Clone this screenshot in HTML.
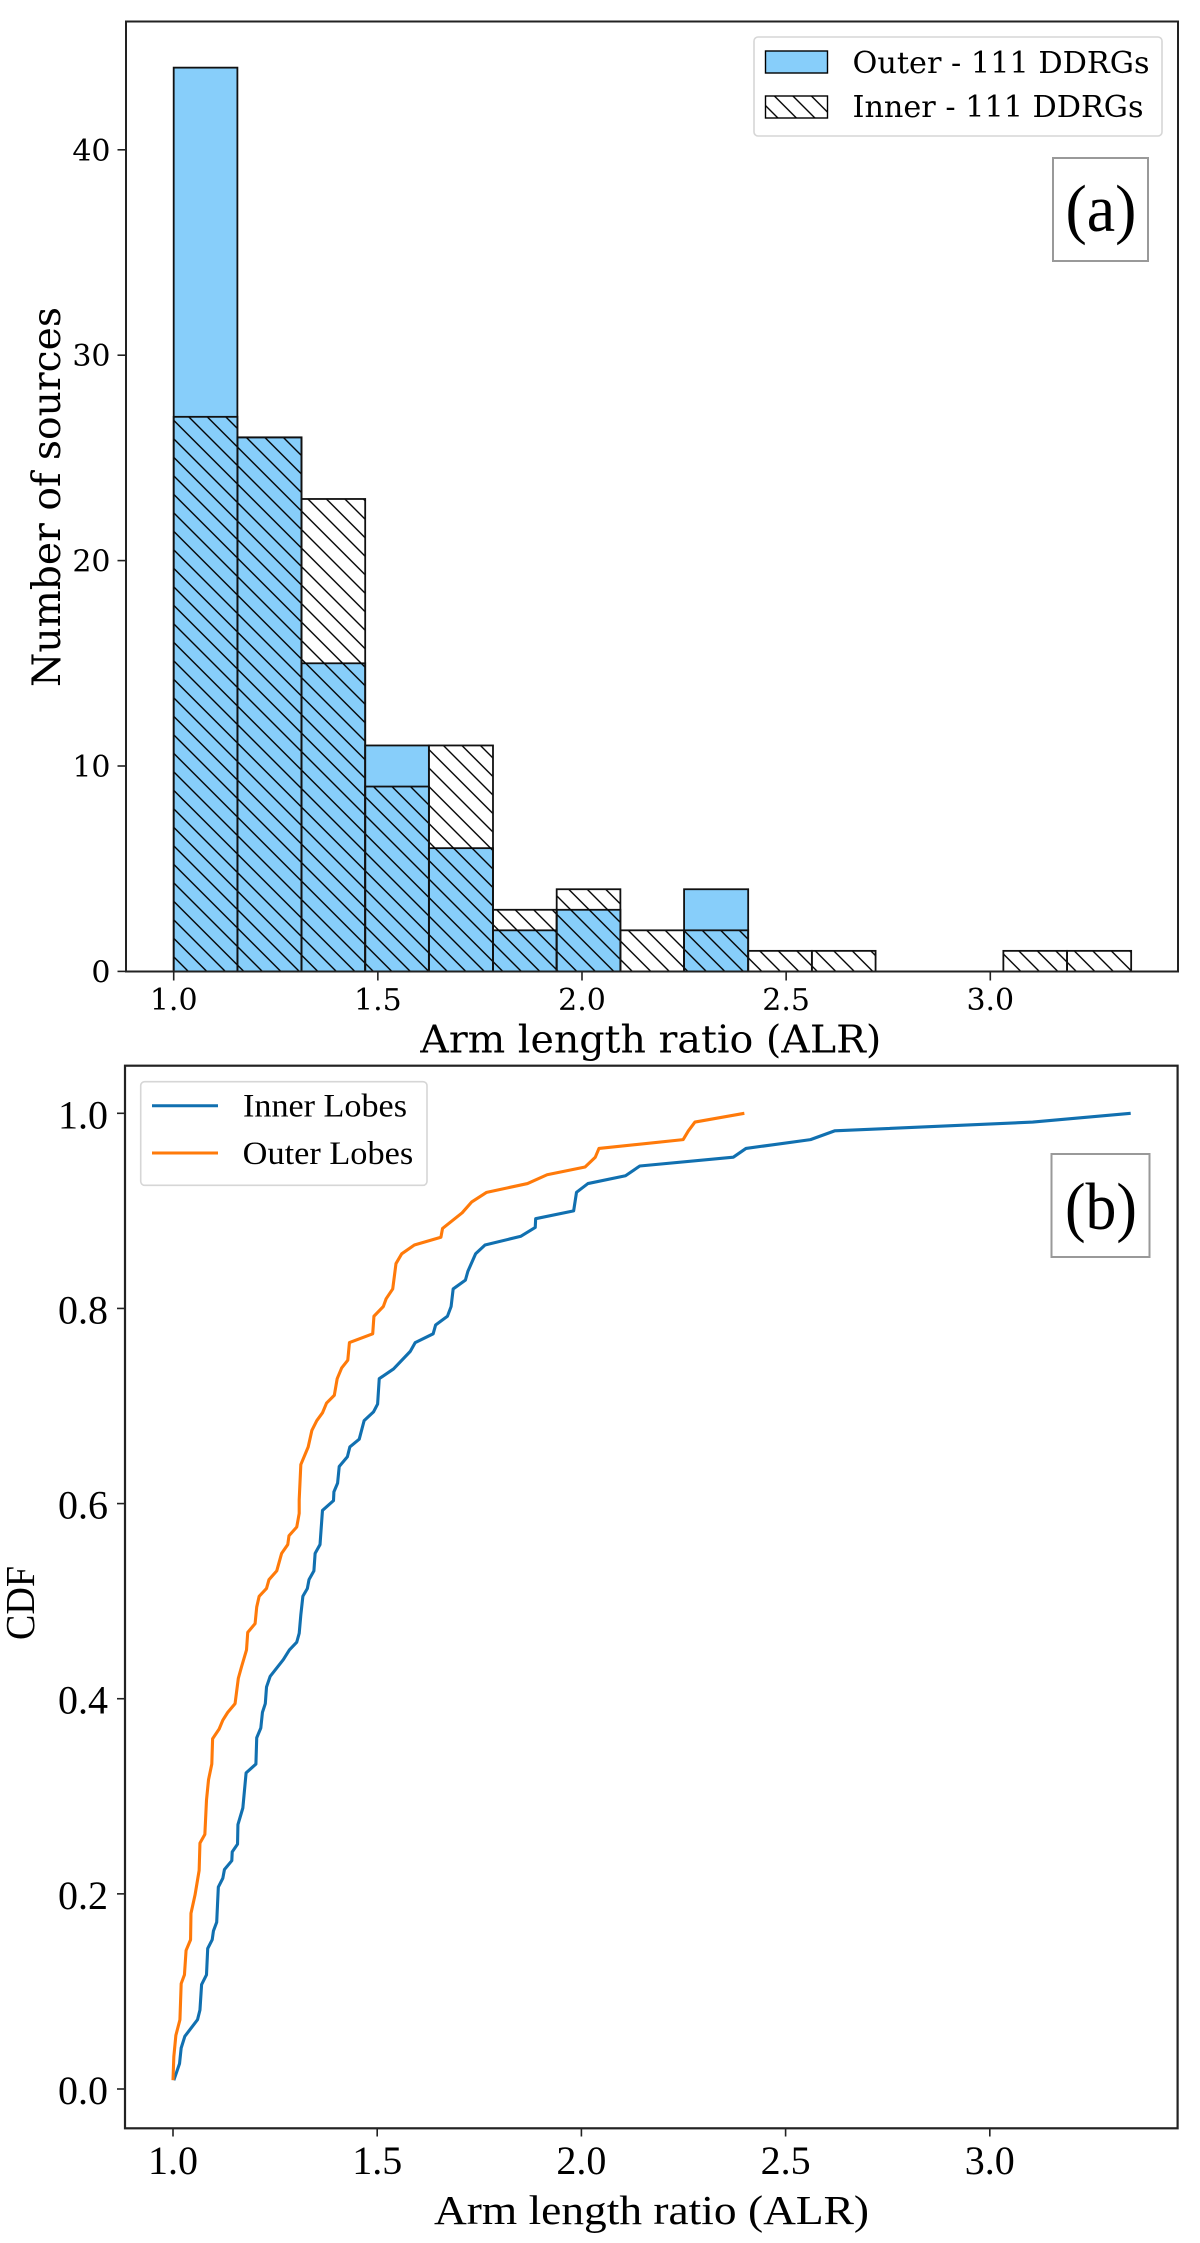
<!DOCTYPE html>
<html lang="en">
<head>
<meta charset="utf-8">
<title>Arm length ratio histogram and CDF</title>
<style>
html,body{margin:0;padding:0;background:#fff;}
svg{display:block;}
.dj{font-family:"DejaVu Serif","Liberation Serif",serif;fill:#000;}
.lib{font-family:"Liberation Serif","DejaVu Serif",serif;fill:#000;}
</style>
</head>
<body>
<svg id="fig" xmlns="http://www.w3.org/2000/svg" width="1200" height="2243" viewBox="0 0 1200 2243">
<defs>
<pattern id="hatch" patternUnits="userSpaceOnUse" width="18.5" height="18.5" patternTransform="translate(12.4 0)">
<path d="M0,0 L18.5,18.5 M-2,16.5 L2,20.5 M16.5,-2 L20.5,2" stroke="#000" stroke-width="1.4" fill="none"/>
</pattern>
</defs>
<rect x="0" y="0" width="1200" height="2243" fill="#fff"/>

<g id="panelA"></g>
<g id="panelB"></g>

<rect x="126" y="21.5" width="1052" height="950" fill="none" stroke="#222" stroke-width="2"/>
<rect x="125" y="1065.7" width="1052.6" height="1062.6" fill="none" stroke="#222" stroke-width="2.2"/>

<text class="dj" x="650.8" y="1052.5" font-size="38" text-anchor="middle" textLength="461" lengthAdjust="spacingAndGlyphs">Arm length ratio (ALR)</text>
<text class="dj" x="0" y="0" font-size="39" text-anchor="middle" textLength="380" lengthAdjust="spacingAndGlyphs" transform="translate(60 497) rotate(-90)">Number of sources</text>
<text class="lib" x="651.5" y="2224" font-size="41" text-anchor="middle" textLength="435" lengthAdjust="spacingAndGlyphs">Arm length ratio (ALR)</text>
<text class="lib" x="0" y="0" font-size="41" text-anchor="middle" textLength="74" lengthAdjust="spacingAndGlyphs" transform="translate(34 1603) rotate(-90)">CDF</text>

<g>
<rect x="754" y="37" width="408" height="99" rx="4" ry="4" fill="#fff" fill-opacity="0.85" stroke="#d6d6d6" stroke-width="1.6"/>
<rect x="765.5" y="51" width="62" height="22" fill="#87cefa" stroke="#000" stroke-width="1.4"/>
<text class="dj" x="852.5" y="73" font-size="30" textLength="297" lengthAdjust="spacingAndGlyphs">Outer - 111 DDRGs</text>
<rect x="765.5" y="96" width="62" height="22" fill="url(#hatch)" stroke="#000" stroke-width="1.4"/>
<text class="dj" x="852.5" y="117" font-size="30" textLength="291" lengthAdjust="spacingAndGlyphs">Inner - 111 DDRGs</text>
</g>

<g>
<rect x="1053" y="158" width="95" height="103" fill="#fff" stroke="#999" stroke-width="2"/>
<text class="lib" x="1101" y="231" font-size="67" text-anchor="middle" textLength="71" lengthAdjust="spacingAndGlyphs">(a)</text>
</g>

<g>
<rect x="140.7" y="1081.7" width="286.3" height="103.6" rx="4" ry="4" fill="#fff" fill-opacity="0.85" stroke="#d6d6d6" stroke-width="1.6"/>
<line x1="152" x2="218" y1="1105.7" y2="1105.7" stroke="#1170b0" stroke-width="3"/>
<text class="lib" x="243" y="1116.7" font-size="33" textLength="164" lengthAdjust="spacingAndGlyphs">Inner Lobes</text>
<line x1="152" x2="218" y1="1153" y2="1153" stroke="#ff7a0a" stroke-width="3"/>
<text class="lib" x="242.7" y="1164" font-size="33" textLength="170.5" lengthAdjust="spacingAndGlyphs">Outer Lobes</text>
</g>

<g>
<rect x="1051.5" y="1154" width="98" height="103" fill="#fff" stroke="#999" stroke-width="2"/>
<text class="lib" x="1101" y="1229" font-size="67" text-anchor="middle" textLength="72" lengthAdjust="spacingAndGlyphs">(b)</text>
</g>
</svg>

<script>
var histBinEdges = [1.000,1.156,1.313,1.469,1.625,1.782,1.938,2.094,2.250,2.407,2.563,2.719,2.876,3.032,3.188,3.345];
var outerCounts = [44,26,15,11,6,2,3,0,4,0,0,0,0,0,0];
var innerCounts = [27,26,23,9,11,3,4,2,2,1,1,0,0,1,1];
var histXTicks = ["1.0","1.5","2.0","2.5","3.0"];
var histYTicks = ["0","10","20","30","40"];
var cdfXTicks = ["1.0","1.5","2.0","2.5","3.0"];
var cdfYTicks = ["0.0","0.2","0.4","0.6","0.8","1.0"];

var innerAlr = [1.002,1.016,1.020,1.029,1.060,1.066,1.070,1.082,1.085,1.096,1.099,1.107,1.111,1.122,1.126,1.144,1.145,1.158,1.159,1.171,1.179,1.203,1.205,1.215,1.219,1.226,1.229,1.238,1.270,1.285,1.303,1.309,1.313,1.318,1.329,1.333,1.345,1.348,1.360,1.366,1.393,1.394,1.403,1.407,1.427,1.433,1.456,1.468,1.491,1.501,1.505,1.540,1.581,1.593,1.637,1.643,1.672,1.681,1.686,1.716,1.722,1.741,1.764,1.852,1.887,1.888,1.981,1.988,2.016,2.108,2.143,2.372,2.403,2.561,2.620,3.105,3.345];
var innerCdf = [0.009,0.026,0.042,0.054,0.071,0.081,0.107,0.117,0.144,0.153,0.162,0.171,0.207,0.216,0.225,0.234,0.243,0.251,0.271,0.288,0.324,0.333,0.360,0.370,0.386,0.395,0.412,0.423,0.440,0.450,0.458,0.467,0.486,0.505,0.513,0.522,0.531,0.549,0.558,0.593,0.603,0.612,0.621,0.638,0.648,0.658,0.666,0.685,0.694,0.702,0.728,0.738,0.756,0.765,0.774,0.783,0.792,0.802,0.820,0.829,0.838,0.856,0.865,0.874,0.883,0.892,0.900,0.919,0.928,0.936,0.946,0.955,0.964,0.973,0.982,0.991,1.000];
var outerAlr = [1.000,1.002,1.007,1.017,1.020,1.028,1.032,1.043,1.044,1.054,1.064,1.066,1.078,1.082,1.087,1.095,1.097,1.113,1.122,1.134,1.152,1.160,1.168,1.180,1.183,1.201,1.205,1.211,1.229,1.235,1.254,1.266,1.281,1.284,1.303,1.309,1.309,1.313,1.331,1.340,1.352,1.366,1.376,1.395,1.402,1.413,1.428,1.432,1.489,1.492,1.515,1.522,1.538,1.546,1.560,1.591,1.656,1.660,1.708,1.731,1.768,1.868,1.916,2.009,2.034,2.043,2.249,2.262,2.278,2.399];
var outerCdf = [0.009,0.033,0.055,0.071,0.108,0.117,0.142,0.153,0.180,0.199,0.224,0.252,0.261,0.296,0.317,0.333,0.359,0.369,0.378,0.386,0.395,0.421,0.433,0.450,0.468,0.477,0.494,0.505,0.513,0.522,0.531,0.549,0.558,0.567,0.576,0.590,0.604,0.640,0.658,0.675,0.685,0.693,0.703,0.711,0.728,0.739,0.747,0.765,0.774,0.792,0.802,0.810,0.820,0.846,0.856,0.865,0.873,0.882,0.898,0.909,0.919,0.928,0.937,0.945,0.955,0.964,0.973,0.982,0.991,1.000];

var NS = "http://www.w3.org/2000/svg";
function histX(v){ return 173.7 + (v - 1) * 408.3; }
function histY(v){ return 971.4 - v * 20.54; }
function cdfX(v){ return 173 + (v - 1) * 408.4; }
function cdfY(v){ return 2089 - v * 975.7; }
function make(parent, tag, attrs){
  var n = document.createElementNS(NS, tag);
  for (var k in attrs) { n.setAttribute(k, attrs[k]); }
  parent.appendChild(n);
  return n;
}
var panelA = document.getElementById("panelA");
var panelB = document.getElementById("panelB");

outerCounts.forEach(function(c, i){
  if (c <= 0) return;
  var r = make(panelA, "rect", {x: histX(histBinEdges[i]), y: histY(c), width: histX(histBinEdges[i+1]) - histX(histBinEdges[i]), height: histY(0) - histY(c), fill: "#87cefa", stroke: "#111", "stroke-width": 1.8});
  
  
});
innerCounts.forEach(function(c, i){
  if (c <= 0) return;
  var r = make(panelA, "rect", {x: histX(histBinEdges[i]), y: histY(c), width: histX(histBinEdges[i+1]) - histX(histBinEdges[i]), height: histY(0) - histY(c), fill: "url(#hatch)", stroke: "#111", "stroke-width": 1.8});
  
  
});

histXTicks.forEach(function(t){
  var x = histX(parseFloat(t));
  var m = make(panelA, "line", {x1: x, x2: x, y1: 971.4, y2: 980.5, stroke: "#222", "stroke-width": 1.6});
  
  
  var l = make(panelA, "text", {x: x, y: 1010, "text-anchor": "middle", "font-size": 30, "class": "dj"});
  l.textContent = t;
  
  
});
histYTicks.forEach(function(t){
  var y = histY(parseFloat(t));
  var m = make(panelA, "line", {x1: 117.5, x2: 126, y1: y, y2: y, stroke: "#222", "stroke-width": 1.6});
  
  
  var l = make(panelA, "text", {x: 110.5, y: y + 11, "text-anchor": "end", "font-size": 30, "class": "dj"});
  l.textContent = t;
  
  
});

cdfXTicks.forEach(function(t){
  var x = cdfX(parseFloat(t));
  var m = make(panelB, "line", {x1: x, x2: x, y1: 2128.3, y2: 2136.5, stroke: "#222", "stroke-width": 1.6});
  
  
  var l = make(panelB, "text", {x: x, y: 2174, "text-anchor": "middle", "font-size": 40, "class": "lib"});
  l.textContent = t;
  
  
});
cdfYTicks.forEach(function(t){
  var y = cdfY(parseFloat(t));
  var m = make(panelB, "line", {x1: 117, x2: 125, y1: y, y2: y, stroke: "#222", "stroke-width": 1.6});
  
  
  var l = make(panelB, "text", {x: 108, y: y + 15, "text-anchor": "end", "font-size": 40, "class": "lib"});
  l.textContent = t;
  
  
});

function linePoints(xs, ys){
  return xs.map(function(v, i){ return cdfX(v).toFixed(2) + "," + cdfY(ys[i]).toFixed(2); }).join(" ");
}
var innerLine = make(panelB, "polyline", {points: linePoints(innerAlr, innerCdf), fill: "none", stroke: "#1170b0", "stroke-width": 3.1, "stroke-linejoin": "round"});


var outerLine = make(panelB, "polyline", {points: linePoints(outerAlr, outerCdf), fill: "none", stroke: "#ff7a0a", "stroke-width": 3.1, "stroke-linejoin": "round"});


</script>
</body>
</html>
